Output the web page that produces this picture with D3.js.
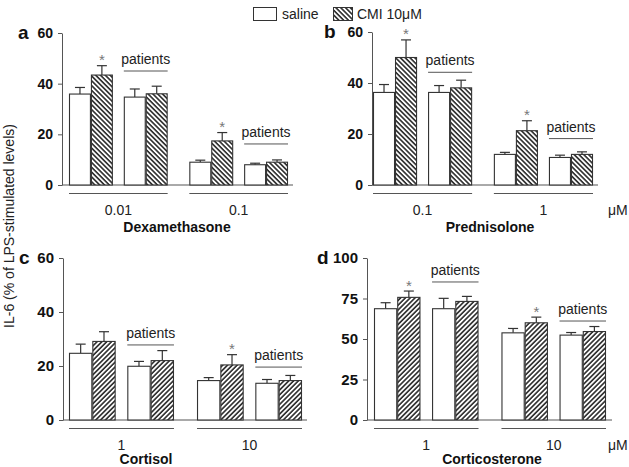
<!DOCTYPE html>
<html><head><meta charset="utf-8">
<script src="https://cdn.jsdelivr.net/npm/d3@7"></script>
<style>
body{margin:0;background:#fff}
svg{display:block;font-family:"Liberation Sans",Arial,Helvetica,sans-serif}
</style>
</head><body>
<svg id="chart" width="629" height="467"></svg>
<script>
// ---------------- DATA ----------------
const panelLetters = ["a", "b", "c", "d"];
const drugNames = ["Dexamethasone", "Prednisolone", "Cortisol", "Corticosterone"];
const doseLabels = [["0.01", "0.1"], ["0.1", "1"], ["1", "10"], ["1", "10"]];
const seriesNames = ["saline", "CMI 10\u03BCM"];
const yMax = [60, 60, 60, 100];
const yTicks = [[0, 20, 40, 60], [0, 20, 40, 60], [0, 20, 40, 60], [0, 25, 50, 75, 100]];
// per panel: [dose1 controls, dose1 patients, dose2 controls, dose2 patients]
const salineMean = [[35.9, 34.7, 9.0, 8.0], [36.3, 36.3, 12.0, 10.8], [24.7, 19.9, 14.6, 13.6], [68.7, 68.7, 53.8, 52.4]];
const salineSem  = [[2.6, 3.2, 0.8, 0.6], [3.1, 2.7, 0.8, 0.9], [3.4, 1.8, 1.1, 1.4], [3.7, 6.4, 2.7, 1.6]];
const cmiMean    = [[43.4, 36.0, 17.4, 9.0], [50.0, 38.1, 21.3, 12.0], [29.1, 22.0, 20.4, 14.6], [75.7, 73.2, 60.0, 54.6]];
const cmiSem     = [[3.7, 3.0, 3.3, 0.9], [6.9, 3.0, 3.9, 1.0], [3.6, 3.7, 3.8, 1.9], [3.9, 3.1, 3.5, 3.1]];
const cmiSignificant = [[1, 0, 1, 0], [1, 0, 1, 0], [0, 0, 1, 0], [1, 0, 1, 0]];
// level (in data units) of the "patients" bracket for each dose
const patientsLevel = [[45, 16.2], [44.2, 18.2], [27.8, 19.6], [85.2, 61.1]];

// ---------------- LAYOUT ----------------
const layout = [
  {axisX: 62,  x0: 69,  x1: 288, xEnd: 293, yTop: 33,  yBottom: 185, tickFont: 14, doseFont: 14, hatch: "back",
   letterX: 18, drugX: 177, drugY: 232, unit: false},
  {axisX: 372, x0: 373, x1: 593, xEnd: 598, yTop: 32,  yBottom: 185, tickFont: 14, doseFont: 14, hatch: "back",
   letterX: 324, drugX: 490, drugY: 232, unit: true},
  {axisX: 63,  x0: 69,  x1: 302, xEnd: 307, yTop: 258, yBottom: 420, tickFont: 15, doseFont: 14, hatch: "fwd",
   letterX: 19, drugX: 146, drugY: 464, unit: false},
  {axisX: 367, x0: 374, x1: 606, xEnd: 612, yTop: 258, yBottom: 420, tickFont: 15, doseFont: 14, hatch: "fwd",
   letterX: 317, drugX: 492, drugY: 464, unit: true}
];
const ink = "#333";
const axisInk = "#555";

const svg = d3.select("#chart");
const defs = svg.append("defs");
function hatchPattern(id, angle) {
  const p = defs.append("pattern").attr("id", id)
    .attr("patternUnits", "userSpaceOnUse").attr("width", 3.4).attr("height", 10)
    .attr("patternTransform", `rotate(${angle})`);
  p.append("rect").attr("width", 3.4).attr("height", 10).attr("fill", "#fff");
  p.append("line").attr("x1", 0.9).attr("x2", 0.9).attr("y1", 0).attr("y2", 10)
    .attr("stroke", "#2a2a2a").attr("stroke-width", 1.6);
}
hatchPattern("hatch-back", -45);
hatchPattern("hatch-fwd", 45);

// ---------------- LEGEND ----------------
const legend = svg.append("g");
legend.append("rect").attr("x", 253.5).attr("y", 7.5).attr("width", 23).attr("height", 13)
  .attr("fill", "#fff").attr("stroke", ink);
legend.append("text").attr("x", 282).attr("y", 19).attr("font-size", 14).attr("fill", "#222").text(seriesNames[0]);
legend.append("rect").attr("x", 333.5).attr("y", 7.5).attr("width", 19).attr("height", 13)
  .attr("fill", "url(#hatch-back)").attr("stroke", ink);
legend.append("text").attr("x", 357).attr("y", 19).attr("font-size", 14).attr("fill", "#222").text(seriesNames[1]);

// Y axis title
svg.append("text")
  .attr("transform", "translate(14,226) rotate(-90)")
  .attr("text-anchor", "middle").attr("font-size", 14).attr("fill", "#222")
  .text("IL-6 (% of LPS-stimulated levels)");

// ---------------- PANELS ----------------
panelLetters.forEach((letter, p) => {
  const L = layout[p];
  const g = svg.append("g");
  const y = d3.scaleLinear().domain([0, yMax[p]]).range([L.yBottom, L.yTop]);
  const xDose = d3.scaleBand().domain([0, 1]).range([L.x0, L.x1]).paddingInner(0.18);
  const xCoh = d3.scaleBand().domain([0, 1]).range([0, xDose.bandwidth()]).paddingInner(0.2);
  const xSer = d3.scaleBand().domain([0, 1]).range([0, xCoh.bandwidth()]);

  // y axis
  const ax = g.append("g").attr("transform", `translate(${L.axisX},0)`)
    .call(d3.axisLeft(y).tickValues(yTicks[p]).tickSize(4).tickSizeOuter(0).tickPadding(5));
  ax.select(".domain").attr("stroke", axisInk);
  ax.selectAll(".tick line").attr("stroke", axisInk);
  ax.selectAll(".tick text").attr("font-size", L.tickFont).attr("font-weight", "bold")
    .attr("font-family", "Liberation Sans, Arial, sans-serif").attr("fill", "#111");

  // baseline
  g.append("line").attr("x1", L.axisX).attr("x2", L.xEnd)
    .attr("y1", y(0)).attr("y2", y(0)).attr("stroke", axisInk);

  // panel letter
  g.append("text").attr("x", L.letterX).attr("y", y(yMax[p]) + 6)
    .attr("font-size", 19).attr("font-weight", "bold").attr("fill", "#111").text(letter);

  const hatchFill = `url(#hatch-${L.hatch})`;

  [0, 1].forEach(d => {
    const dx = xDose(d);
    // dose underline + label
    g.append("line").attr("x1", dx).attr("x2", dx + xDose.bandwidth())
      .attr("y1", y(0) + 8.5).attr("y2", y(0) + 8.5).attr("stroke", axisInk);
    g.append("text").attr("x", dx + xDose.bandwidth() / 2).attr("y", y(0) + 30)
      .attr("text-anchor", "middle").attr("font-size", L.doseFont).attr("fill", "#222")
      .text(doseLabels[p][d]);

    [0, 1].forEach(c => {
      const idx = d * 2 + c;
      const cx = dx + xCoh(c);
      const vals = [
        {m: salineMean[p][idx], e: salineSem[p][idx], fill: "#fff", sig: 0},
        {m: cmiMean[p][idx], e: cmiSem[p][idx], fill: hatchFill, sig: cmiSignificant[p][idx]}
      ];
      vals.forEach((v, s) => {
        const bx = cx + xSer(s);
        const bw = xSer.bandwidth();
        const mid = bx + bw / 2;
        // error bar (upper)
        g.append("line").attr("x1", mid).attr("x2", mid)
          .attr("y1", y(v.m)).attr("y2", y(v.m + v.e)).attr("stroke", ink).attr("stroke-width", 1.2);
        g.append("line").attr("x1", mid - 5).attr("x2", mid + 5)
          .attr("y1", y(v.m + v.e)).attr("y2", y(v.m + v.e)).attr("stroke", ink).attr("stroke-width", 1.2);
        g.append("rect").attr("x", bx + 0.5).attr("y", y(v.m))
          .attr("width", bw - 1).attr("height", y(0) - y(v.m))
          .attr("fill", v.fill).attr("stroke", ink).attr("stroke-width", 1.1);
        if (v.sig) {
          g.append("text").attr("x", mid).attr("y", y(v.m + v.e) - 0.5)
            .attr("text-anchor", "middle").attr("font-size", 15).attr("fill", "#777").text("*");
        }
      });
      if (c === 1) {
        const ly = y(patientsLevel[p][d]);
        g.append("line").attr("x1", cx).attr("x2", cx + xCoh.bandwidth())
          .attr("y1", ly).attr("y2", ly).attr("stroke", axisInk);
        g.append("text").attr("x", cx + xCoh.bandwidth() / 2).attr("y", ly - 7)
          .attr("text-anchor", "middle").attr("font-size", 14).attr("fill", "#222").text("patients");
      }
    });
  });

  if (L.unit) {
    g.append("text").attr("x", 608).attr("y", y(0) + 30)
      .attr("font-size", 14).attr("fill", "#222").text("\u03BCM");
  }
  g.append("text").attr("x", L.drugX).attr("y", L.drugY)
    .attr("text-anchor", "middle").attr("font-size", 14).attr("font-weight", "bold").attr("fill", "#111")
    .text(drugNames[p]);
});
</script>
</body></html>
